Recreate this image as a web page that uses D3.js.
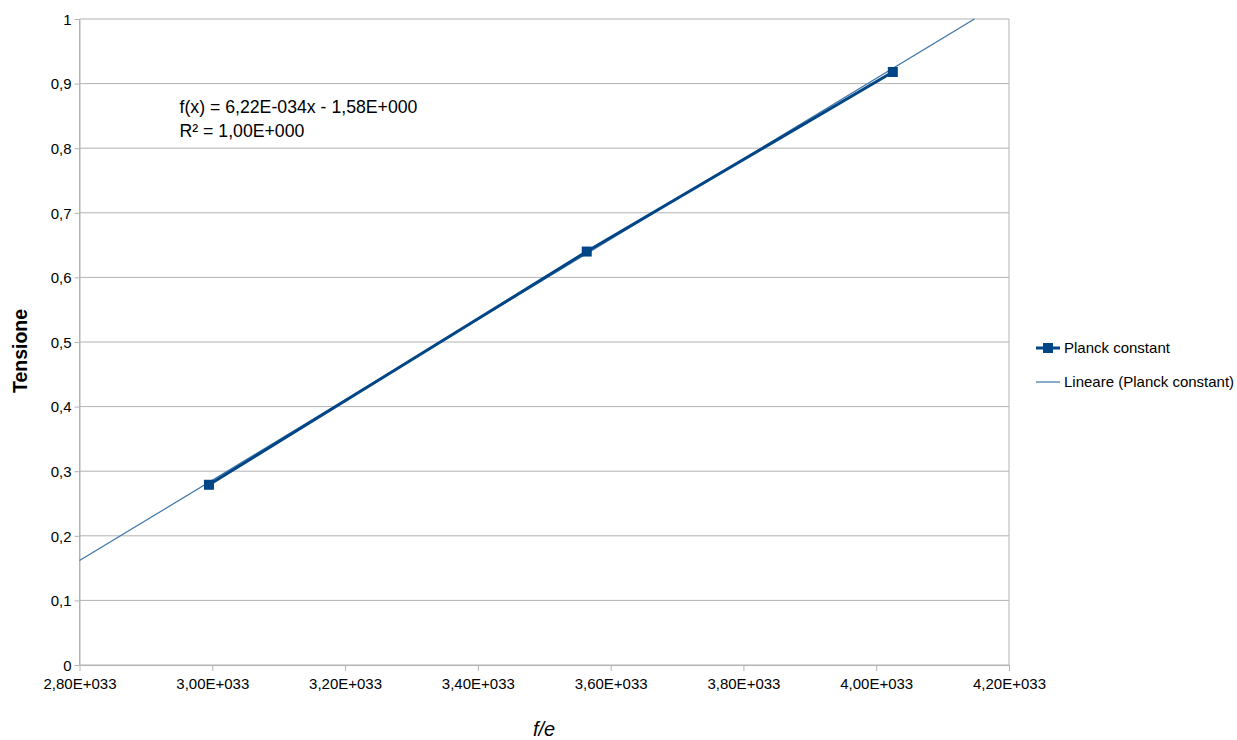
<!DOCTYPE html>
<html>
<head>
<meta charset="utf-8">
<script src="https://cdn.jsdelivr.net/npm/d3@7"></script>
<style>
  body { margin: 0; background: #fff; }
  text { font-family: "Liberation Sans", Arial, sans-serif; fill: #000; }
</style>
</head>
<body>
<svg id="chart" width="1237" height="740"></svg>
<script>
// data
let freqs = [2.995e33, 3.564e33, 4.025e33];
let voltages = [0.279, 0.640, 0.918];
let slope = 6.22e-34;
let intercept = -1.58;
let xTicks = [2.8e33, 3.0e33, 3.2e33, 3.4e33, 3.6e33, 3.8e33, 4.0e33, 4.2e33];
let yTicks = [0, 0.1, 0.2, 0.3, 0.4, 0.5, 0.6, 0.7, 0.8, 0.9, 1];
let seriesName = "Planck constant";
let trendName = "Lineare (Planck constant)";

let margin = {top: 19, left: 79.5, right: 228, bottom: 75};
let width = 1237 - margin.left - margin.right;
let height = 740 - margin.top - margin.bottom;

let svg = d3.select("#chart");
let g = svg.append("g").attr("transform", `translate(${margin.left},${margin.top})`);

let x = d3.scaleLinear().domain([2.8e33, 4.2e33]).range([0, width]);
let y = d3.scaleLinear().domain([0, 1]).range([height, 0]);

let fmtX = d => d3.format(".2f")(d / 1e33).replace(".", ",") + "E+033";
let fmtY = d => (d === 0 || d === 1) ? String(d) : d3.format(".1f")(d).replace(".", ",");

// gridlines
g.append("g").selectAll("line")
    .data(yTicks)
    .join("line")
    .attr("x1", 0).attr("x2", width)
    .attr("y1", d => y(d)).attr("y2", d => y(d))
    .attr("stroke", "#b3b3b3").attr("stroke-width", 1);

// frame sides
g.append("line").attr("x1", 0).attr("x2", 0).attr("y1", 0).attr("y2", height)
    .attr("stroke", "#b3b3b3");
g.append("line").attr("x1", width).attr("x2", width).attr("y1", 0).attr("y2", height)
    .attr("stroke", "#b3b3b3");

// axes
let xAxis = g.append("g").attr("transform", `translate(0,${height})`)
    .call(d3.axisBottom(x).tickValues(xTicks).tickFormat(fmtX).tickSize(6).tickSizeOuter(0));
let yAxis = g.append("g")
    .call(d3.axisLeft(y).tickValues(yTicks).tickFormat(fmtY).tickSize(5).tickSizeOuter(0));
[xAxis, yAxis].forEach(a => {
    a.select(".domain").attr("stroke", "#b3b3b3");
    a.selectAll(".tick line").attr("stroke", "#b3b3b3");
    a.selectAll("text").style("font-family", "Liberation Sans, Arial, sans-serif")
        .style("font-size", "15px").attr("fill", "#000");
});
xAxis.selectAll("text").attr("dy", "1em");
yAxis.selectAll("text").attr("dy", "0.35em").attr("x", -8);

// trend line
let trendY = v => slope * v + intercept;
let xStart = x.domain()[0];
let xEnd = (1 - intercept) / slope;
g.append("line")
    .attr("x1", x(xStart)).attr("y1", y(trendY(xStart)))
    .attr("x2", x(xEnd)).attr("y2", y(trendY(xEnd)))
    .attr("stroke", "#3c74a8").attr("stroke-width", 1.2);

// series
let pts = freqs.map((f, i) => ({f: f, v: voltages[i]}));
g.append("path").datum(pts)
    .attr("fill", "none").attr("stroke", "#004586").attr("stroke-width", 3)
    .attr("d", d3.line().x(d => x(d.f)).y(d => y(d.v)));
g.append("g").selectAll("rect")
    .data(pts)
    .join("rect")
    .attr("x", d => x(d.f) - 5).attr("y", d => y(d.v) - 5)
    .attr("width", 10).attr("height", 10)
    .attr("fill", "#004586");

// equation text
let eq = g.append("text").attr("x", 100).attr("y", 94).style("font-size", "17.7px");
eq.append("tspan").attr("x", 100).text("f(x) = 6,22E-034x - 1,58E+000");
eq.append("tspan").attr("x", 100).attr("dy", 24).text("R² = 1,00E+000");

// axis titles
svg.append("text")
    .attr("transform", "translate(27,351) rotate(-90)")
    .attr("text-anchor", "middle")
    .style("font-size", "19.5px").style("font-weight", "bold")
    .text("Tensione");
svg.append("text")
    .attr("x", 544).attr("y", 736)
    .attr("text-anchor", "middle")
    .style("font-size", "20px").style("font-style", "italic")
    .text("f/e");

// legend
let lg = svg.append("g").attr("transform", "translate(1036,348)");
lg.append("line").attr("x1", 0).attr("x2", 24).attr("y1", 0).attr("y2", 0)
    .attr("stroke", "#004586").attr("stroke-width", 3);
lg.append("rect").attr("x", 7).attr("y", -5).attr("width", 10).attr("height", 10)
    .attr("fill", "#004586");
lg.append("text").attr("x", 28).attr("y", 5).style("font-size", "15px").text(seriesName);
lg.append("line").attr("x1", 0).attr("x2", 24).attr("y1", 34).attr("y2", 34)
    .attr("stroke", "#3c74a8").attr("stroke-width", 1.2);
lg.append("text").attr("x", 28).attr("y", 39).style("font-size", "15px").text(trendName);
</script>
</body>
</html>
